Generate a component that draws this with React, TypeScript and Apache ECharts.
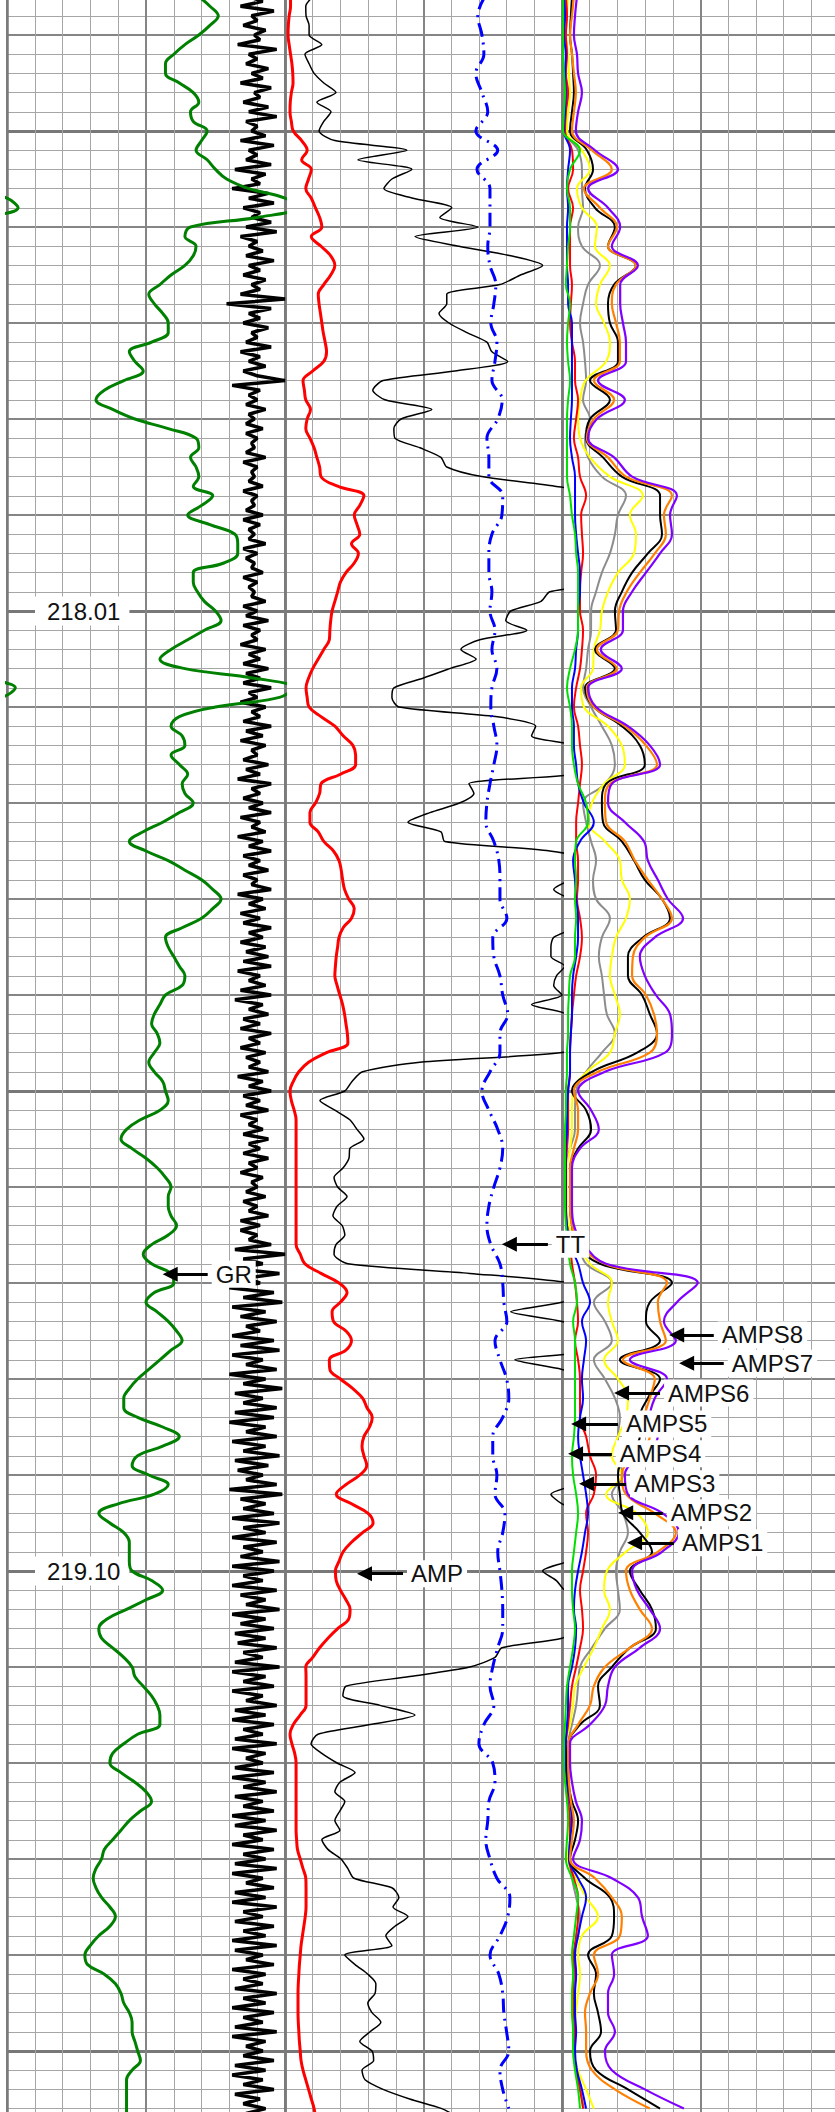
import React, { useEffect, useRef } from 'react';
import * as echarts from 'echarts';

// ---------- depth scale ----------
const DEPTH_MIN = 216.92;
const DEPTH_MAX = 220.19;
const DIV_DEPTH = 0.0218; // depth per minor grid division
const SAMPLE_TOP = 217.3124; // depth of first sample
const STEP_FINE = 0.0109;
const STEP_COARSE = 0.0218;
const STEP_CCL = 0.00545;

// ---------- track 1 ----------
const GR = [69,73,76,73,69,64,60,57,57,62,
67,69,66,67,72,70,68,72,75,79,
87,100,104,90,66,64,68,67,64,59,
55,51,53,56,58,58,52,44,46,49,
42,35,32,38,46,58,68,69,66,68,
69,67,74,70,65,73,82,83,83,78,
67,67,68.5,71,75,77,71,65,59,55,
64,89,103,98,75,62,59,63,64,59,
62,65,63,64,67,62,56,49,44,50,
58,64,70,74,77,74,70,63,57,58,
60,62,64,63,57,55,53,52,54,55,
53,51,53,56,57,58,55,48,43,41,
45,50,54,57,59,58,58,59,61,58,
52,49,52,59,60,53,50,54,58,61,
63,59,55,51,47,44,42,42,47,56,
62,56,47,45,51,58,53,40,33,37,
42,44,44,44,45,52,56,50,43,36,
33,34,38,42,45,46,49,52,54,55,
55,47,42,38,37,41,46,50,52,48,
44,41,38,35,34,32,31,32,34,37,
39,37,33,30,28,29,35,39,41,42,
44,45,45,46,47,48,45,43,43,43,
43,43];

const CCL = [
87,92,84,96,88,90,85,93,89,91,83,97,87,90,86,94,88,92,84,95,
89,91,85,94,87,97,86,90,88,93,84,96,87,90,86,95,82,93,88,91,
81,94,87,96,85,91,88,95,86,97,84,90,87,92,86,96,87,91,85,93,
88,91,84,100,79,95,87,91,85,94,88,90,86,95,84,91,87,93,85,90,
100,81,91,87,90,86,93,87,89,86,92,86,90,88,89,86,93,85,90,88,
89,87,92,85,90,88,89,86,92,85,91,87,89,87,93,85,90,86,89,88,
92,85,90,87,89,88,93,85,90,86,94,85,91,88,90,84,93,87,91,85,
94,86,91,85,95,87,90,84,93,88,91,85,95,86,92,84,93,88,90,85,
94,86,91,83,95,88,91,85,92,87,95,84,91,88,93,83,92,87,95,85,
91,87,94,85,90,88,95,83,92,87,93,84,91,85,95,87,92,84,93,86,
94,85,95,83,91,87,93,84,95,82,92,87,94,85,91,84,95,87,91,84,
93,86,91,87,94,83,92,87,95,85,91,86,94,84,90,87,92,85,94,87,
91,85,94,87,90,84,92,88,90,86,93,85,90,87,94,84,91,84,90,87,
95,82,100,85,92,81,98,86,91,80,96,85,99,81,93,84,97,86,91,81,
96,84,98,81,92,86,97,80,93,85,99,82,92,85,97,82,96,80,93,86,
97,81,93,85,98,82,94,83,92,86,97,80,99,84,93,85,96,81,98,85,
93,81,97,85,92,84,98,81,96,85,92,81,97,84,93,86,98,81,93,84,
96,82,93,83,97,85,92,82,98,81,93,85,96,81,92,86,97,82,93,81,
96,85,92,82,97,81,93,86,92,82,96,81,93,85,97,82,92,85,96,81,
93,82,97,85,92,81,96,85,93,82,97,81,92,86,96,82,93,81,97,85,
92,82,96,85,93,81,97,82,92,86,96,81,93,85,92,82,97,85,93,81,
96,85,92,82,97,81,93,86,92,85,96,82,93,81,92,85,96,82,91,85,
93,86,92];

// ---------- track 2 ----------
const AMP = [2,2,1.5,1.2,1.1,1.5,2,2.5,2.8,2.9,
2.3,1.9,1.8,2.3,3,6,8,6,9.5,8.5,
7.5,9.5,11,12.5,13.3,9.5,13,16.5,18,16.5,
14,12,12.3,12.8,13.3,13.8,14.5,15,14,10,
6.5,7,7.5,9.2,8,7.5,9,10.5,11.5,12.5,
13,19,28.5,27,25,26,27,24,26.5,25,
22,20,19,18,17,16.5,16.2,16,14,12,
10,8.5,7.6,8,8.7,13,18,21,24.5,25.5,
25.5,20,13,12.5,11,9,9,12,14,17.5,
19.5,20.3,20.8,21.5,23,25,24,21,19.5,19,
18.5,18.2,18,18.8,19.8,20.8,21.5,22,22.5,22.7,
15,8.5,5,3,1.8,2.3,3.3,4,4,4,
4,4,4,4,4,4,4,4,4,4,
4,5.5,7.2,13,19.5,22.4,20,17,17.5,22,
24,22,16,16.2,20,24.5,28,29.6,31.5,30.5,
28.5,27.8,28.5,29.5,27,22,18.5,24,30,31.8,
28,24,21,19.5,18.2,18.5,20,22,23.5,23,
19,15.5,12.5,10,7.5,7.6,7.6,7.6,7.6,5.5,
3,1.8,2.5,3.5,4,4,4,4,4,4,
4,4,4.2,4.5,5.5,6.5,7.5,7.6,7.6,7.6,
7.3,6.8,6.3,5.8,5.5,5.2,5,4.8,4.7,4.7,
4.7,4.8,5,5.2,5.5,5.8,6.5,7.5,8.5,9.5,
10.5,11];

const BLACK_TRACE = [10.1,7.5,7.6,8.7,8.7,13.3,7.2,8.7,10.5,14,
18.4,11.5,16.6,14,12.3,18,44,26.3,45.8,38.6,
35.7,46.2,60.2,55.9,69.6,46.9,62.8,81.5,93,85,
77.6,58.4,58.4,55.6,59.2,65.7,72.9,74.7,80.4,61.3,
35.4,31.7,36.1,53,41.9,39.3,39.7,48.7,56.3,58.4,
71,97.4,115,115,115,115,115,115,115,115,
115,115,95.6,92.4,81.5,79.7,87.3,70.3,63.5,69,
59.5,49.8,39.3,38.6,41.1,76,90.5,89,105,110,
110,105,66.4,68.2,63,52.3,44.4,56.3,57.7,95.6,
110,108,103,97,103,110,110,105,97,96,
96,101,98,97,100,89,102,103,105,105,
100,48.7,28,24.2,21.6,12.6,18,23.4,26,28.5,
23.4,23.1,21,17.7,19,22.4,18.8,17.3,20.6,21.6,
18.4,17.7,22.7,66.7,103,108,100,81.5,100,108,
110,110,83,100,110,110,110,110,110,110,
110,110,110,110,110,105,96,100,110,110,
110,110,108,102,93,98,101,110,110,110,
105,100,78.3,75.8,66.7,45,22,20.9,34.3,46.9,
30.7,11.9,9.4,13.3,18.8,25.3,19.8,18,21.6,19.8,
18,19.8,13.3,15.5,20.2,22.7,24.9,38.6,41.1,39,
44.4,39.7,36.4,38.6,21.6,25.3,29.9,32.8,32.5,29.9,
31.4,34.6,30.7,27,31.4,32,27.8,28.9,35.4,45,
56.6,63];

const TT = [72.2,69.6,71.1,71.8,68.9,71.1,73.2,68.9,76.8,69.3,
74,74,74,73.2,74,76.1,75.4,74.3,76.5,75.8,
74.7,78.4,76.8,72.9,73.6,73.6,78.6,78.3,74.7,73.6,
73.6,74.7,74,75.8,74.7,76.5,74.7,74.3,75.4,76.5,
75.4,74,72.9,72.5,75.4,77.2,77.6,77.6,80.1,75,
75.4,77.6,78.6,80.4,77.6,77.6,74,71.1,73.6,76.8,
78.6,77.6,75.4,73.6,72.9,74.3,77.6,78.6,79,80.1,
75.8,77.6,80,80.8,78.6,75,75,76.5,75.8,79.4,
78.6,76.8,77.6,78.3,78.6,78.6,76.8,75,74,75.4,
71.8,70,75,75.8,73.6,73.2,72.5,74,76.5,81.2,
80.4,77.6,74,77.2,78.6,79,80,80.8,77.6,78.6,
80.8];

// ---------- track 3 ----------
const AMPS1 = [2.2,1.8,1.4,2.2,2.5,2.9,2.2,1.8,7.2,10.1,
5.4,7.2,12.6,11.9,17.3,13.7,12.3,15.2,17.3,15.9,
8.5,6.5,5.8,6.5,10.1,17.3,29.2,24.5,26.7,26,
20.2,16.6,14.4,13.7,11.5,11.2,6.9,7.9,16.6,21.6,
22.7,15.2,10.8,9.4,15.5,20.9,21.6,24.5,23.1,19.5,
18,17.3,19.1,20.9,19.1,17.3,9,4,3.6,3.6,
2.9,1.8,1.8,1.8,2.5,5.8,10.1,18,16.6,18,
20.2,15.2,20.2,23.8,23.1,20.2,18,21.6,15.9,27.1,
31,23.1,16.2,15.2,17.3,14.4,11.5,7.9,4.7,4,
2.9,1.4,1.4,1.8,2.2,2.9,2.5,2.2,5,8.7,
13,7.2,5.8,6.5,5.8,5,4.7,4.3,5.8,8.7,
11.5];

const AMPS2 = [3.6,3.2,2.9,3.6,4,4.3,3.6,2.9,9,11.2,
8.3,11.9,19.1,16.6,26.7,18.8,16.6,17.3,20.2,20.2,
10.1,17.3,10.1,8.7,14.8,21.6,35.4,35.4,36.1,31,
25.3,21.6,19.1,19.5,11.9,19.1,8.3,11.5,21.6,28.1,
29.9,15.9,14.4,14.8,21.6,26,29.9,36.1,39,29.2,
23.8,23.8,28.9,31.7,34.3,27.1,10.8,3.6,8.7,10.5,
5.8,2.9,2.9,2.9,3.6,5.4,13.7,39.7,31.7,30.3,
35.4,20.9,35.4,31,28.1,28.1,22.7,20.2,20.9,22,
28.1,32.5,24.5,28.1,32.5,33.9,24.5,18,13,13.7,
6.5,2.2,1.8,2.2,3.6,5.8,4.7,2.9,8.3,17.3,
18.8,18,9.4,12.3,11.5,13,14.1,10.1,12.3,23.8,
35.4];

const AMPS3 = [0.7,1.1,0.7,1.4,1.1,1.4,1.1,0.7,2.9,2.2,
1.8,2.2,1.8,1.8,1.8,2.2,2.2,3.6,3.6,3.6,
3.6,3.6,3.2,2.9,3.6,4.7,4.7,4.7,5.1,5.8,
6.5,6.5,5.8,5.8,5.1,4.7,3.6,3.6,4.3,4.3,
5.1,5.8,7.9,11.5,6.5,4,4.7,5.1,5.8,5.8,
5.1,4,3.6,3.6,3.2,2.9,2.9,2.2,1.8,1.8,
1.4,1.4,1.4,1.4,1.8,2.9,5.8,7.6,10.1,7.2,
8.7,7.9,7.2,7.6,6.5,5.8,6.5,7.6,8.7,9.4,
8.3,7.2,5.8,4.7,4.3,5.1,4.7,3.6,2.2,2.2,
1.8,1.4,1.4,1.8,2.9,3.6,2.9,2.5,5.8,8.7,
7.2,5.8,4.7,5.1,4.7,4.7,5.1,4.7,5.4,7.2,
8.7];

const AMPS4 = [0.4,0.4,0.4,0.4,0.7,1.1,0.7,0.4,6.5,2.9,
1.8,2.9,2.9,2.2,1.8,1.4,2.9,2.2,1.8,2.2,
2.9,2.2,1.8,1.8,1.8,1.8,2.9,3.6,4.7,5.1,
5.8,5.8,5.8,5.8,4.7,2.9,1.8,2.9,3.6,3.6,
4.3,5.8,8.7,9.4,5.1,4.7,5.1,4.7,5.1,4.7,
4.7,2.9,2.5,2.2,2.2,1.8,1.8,1.4,1.4,1.1,
1.1,1.1,1.1,1.1,1.4,2.2,2.9,4.7,5.4,4,
4.7,4.7,4.7,4.7,4.7,4.3,3.6,4,5.1,5.8,
5.1,4.3,3.6,3.6,4,4.7,4,2.9,1.8,1.4,
1.1,0.7,0.7,1.1,1.8,2.2,1.8,1.4,3.6,5.8,
5.1,4.3,3.6,4,3.6,3.6,4,4,4.7,5.8,
6.5];

const AMPS5 = [1.4,1.8,1.4,1.8,1.4,2.2,1.4,1.1,3.6,4,
2.2,4,2.9,2.9,2.9,3.6,3.2,2.9,3.6,4.7,
4.7,5.8,5.1,4.3,5.8,6.5,8.7,6.9,7.2,7.6,
6.9,6.5,6.5,7.6,7.2,6.5,5.1,4.3,5.8,6.5,
7.2,6.5,5.8,5.1,5.1,5.8,5.8,5.4,6.5,7.2,
6.5,5.1,4.3,3.6,3.2,2.9,2.9,2.2,2.2,2.2,
1.8,1.4,1.4,1.4,1.8,2.9,3.6,4.7,5.4,5.8,
4.7,5.8,6.5,6.5,6.5,8.7,10.1,12.3,11.5,8.7,
9.4,8.7,7.6,6.5,7.2,7.6,6.5,5.1,3.6,2.9,
2.2,1.4,1.4,1.8,2.2,2.9,2.9,2.5,4.3,5.8,
5.8,5.1,4.3,4.3,4,4.3,4.7,4.3,5.1,6.5,
7.6];

const AMPS6 = [1.1,1.1,1.1,1.4,1.4,1.8,1.4,1.1,5.8,7.2,
7.2,7.6,5.8,7.2,13.7,9.4,7.6,6.5,7.6,8.3,
8.7,7.6,10.1,8.3,9.4,14.4,23.1,20.2,19.1,17.3,
14.4,12.3,10.5,10.5,9.4,8.7,7.6,10.5,14.4,18,
19.1,15.5,7.6,8.7,10.5,12.3,11.2,12.3,17.3,14.4,
13.3,14.4,15.2,16.2,19.1,14.4,8.7,5.1,4.7,4.7,
2.9,1.4,1.4,1.4,2.2,5.8,8.7,18,11.5,15.5,
18,11.5,15.5,19.1,20.9,20.2,20.2,22,18,22,
23.8,20.9,19.5,20.2,20.9,15.5,10.8,6.5,5.8,5.1,
3.6,2.2,2.2,2.5,2.9,3.6,3.2,2.9,3.6,5.1,
6.5,5.8,4.3,5.1,4.3,4.3,4,4.3,5.1,6.5,
7.9];

const AMPS7 = [4.3,3.6,2.9,3.6,4.3,5,4.3,3.6,10.8,18,
7.9,13.7,19.8,16.6,26.7,19.5,18,19.5,20.9,20.9,
11.5,18.8,11.5,9,16.6,23.1,39.7,36.8,37.5,33.5,
28.1,23.4,20.6,20.2,12.6,19.8,9,11.5,22.7,30.3,
34.3,17.3,15.5,15.9,22.7,26.3,31,36.1,39.7,29.9,
25.6,25.3,30.3,33.2,34.3,31.7,13,4.3,5.8,5.8,
4.3,2.9,2.9,2.9,3.6,6.5,15.5,37.9,34.6,35.4,
37.5,22,33.5,31.7,29.9,31.7,25.6,21.6,23.1,33.5,
41.1,34.6,23.1,24.5,28.1,32.5,24.5,15.5,11.5,10.1,
5.8,2.2,2.2,2.5,3.2,4.3,3.6,2.9,11.9,18,
21.6,20.9,11.5,13,10.1,8.3,8.7,8.7,10.8,19.1,
31.7];

const AMPS8 = [5.4,4.7,4.3,5.4,5.8,7.2,5.8,5,11.9,20.2,
9.4,16.6,21,18,27.4,21,21,22,23.1,23.1,
13,22.7,12.6,9.4,18.8,25.3,41.5,39,39.7,35.4,
30.3,25.3,22,22,14,21.6,9.4,12.3,23.8,31.7,
35.4,18,16.6,22.7,29.6,31,34.6,38.2,43.7,33.5,
28.1,29.9,33.9,39,39.7,37.2,15.5,5.8,10.5,13.3,
6.5,3.6,3.6,3.6,4.3,7.9,15.9,49,41.5,36.8,
41.1,24.5,37.9,33.5,31.7,34.6,28.1,22.7,23.8,36.4,
42.2,36.1,25.3,27.1,31.7,35.4,28.1,19.1,16.6,15.5,
10.1,2.9,2.9,3.6,5,7.2,6.5,4,18,27.4,
28.9,31,18,18.8,16.6,16.6,19.1,15.5,18,29.9,
44];

// ---------- annotations (curve name arrows) ----------
const ANNOTATIONS = [
  { label: 'GR', track: 0, depth: 218.763, tip: 56.3, tail: 72.2 },
  { label: 'CCL$1', track: 0, depth: 218.797, tip: 89, tail: 105.7 },
  { label: 'TT', track: 1, depth: 218.729, tip: 78.6, tail: 94.9 },
  { label: 'AMP', track: 1, depth: 219.103, tip: 26.3, tail: 42.6 },
  { label: 'AMPS8', track: 2, depth: 218.832, tip: 39, tail: 54.8 },
  { label: 'AMPS7', track: 2, depth: 218.864, tip: 42.6, tail: 58.4 },
  { label: 'AMPS6', track: 2, depth: 218.898, tip: 19.1, tail: 35.4 },
  { label: 'AMPS5', track: 2, depth: 218.933, tip: 3.6, tail: 20.2 },
  { label: 'AMPS4', track: 2, depth: 218.967, tip: 2.5, tail: 18 },
  { label: 'AMPS3', track: 2, depth: 219.001, tip: 6.5, tail: 23.1 },
  { label: 'AMPS2', track: 2, depth: 219.034, tip: 20.6, tail: 36.4 },
  { label: 'AMPS1', track: 2, depth: 219.068, tip: 23.8, tail: 40.4 },
];

// ---------- layout / style ----------
const TRACKS = [
  { left: 7, width: 278 },
  { left: 285, width: 277 },
  { left: 562, width: 277 },
];
const PAGE_W = 835;
const PAGE_H = 2112;
const CHART_SHIFT = -349; // chart canvas starts above the visible window
const CHART_H = 2880;
const FONT = 'Liberation Sans, Arial, Helvetica, sans-serif';
const MINOR = { color: '#a6a6a6', width: 1 };
const MEDIUM = { color: '#858585', width: 2 };
const MAJOR = { color: '#787878', width: 3 };
const BORDER = { color: '#7a7a7a', width: 2.5 };
const ARROW_INSET = 2.4;

type CurveDef = {
  name: string; track: number; values: number[]; step: number; color: string;
  width: number; smooth: number | boolean; dash?: number[]; offset?: number;
};

const CURVES: CurveDef[] = [
  { name: 'CCL$1', track: 0, values: CCL, step: STEP_CCL, color: '#000000', width: 3.5, smooth: false },
  { name: 'GR', track: 0, values: GR, step: STEP_FINE, color: '#008000', width: 3, smooth: 0.4 },
  { name: 'GR backup', track: 0, values: GR, step: STEP_FINE, color: '#008000', width: 3, smooth: 0.4, offset: -100 },
  { name: 'AMP', track: 1, values: AMP, step: STEP_FINE, color: '#ff0000', width: 3, smooth: 0.4 },
  { name: 'AMP trace', track: 1, values: BLACK_TRACE, step: STEP_FINE, color: '#000000', width: 1.5, smooth: 0.25 },
  { name: 'TT', track: 1, values: TT, step: STEP_COARSE, color: '#0000ff', width: 3, smooth: 0.4, dash: [14, 6, 2, 6] },
  { name: 'AMPS6', track: 2, values: AMPS6, step: STEP_COARSE, color: '#8c8c8c', width: 2, smooth: 0.4 },
  { name: 'AMPS1', track: 2, values: AMPS1, step: STEP_COARSE, color: '#ffff00', width: 2, smooth: 0.4 },
  { name: 'AMPS5', track: 2, values: AMPS5, step: STEP_COARSE, color: '#ff0000', width: 2, smooth: 0.4 },
  { name: 'AMPS3', track: 2, values: AMPS3, step: STEP_COARSE, color: '#0000ff', width: 2, smooth: 0.4 },
  { name: 'AMPS4', track: 2, values: AMPS4, step: STEP_COARSE, color: '#00e000', width: 2, smooth: 0.4 },
  { name: 'AMPS2', track: 2, values: AMPS2, step: STEP_COARSE, color: '#000000', width: 2, smooth: 0.4 },
  { name: 'AMPS7', track: 2, values: AMPS7, step: STEP_COARSE, color: '#ff8000', width: 2.2, smooth: 0.4 },
  { name: 'AMPS8', track: 2, values: AMPS8, step: STEP_COARSE, color: '#8000ff', width: 2.2, smooth: 0.4 },
];

function buildOption() {
  const hidden = { axisLine: { show: false }, axisTick: { show: false }, axisLabel: { show: false } };
  const xAxis: any[] = [];
  const yAxis: any[] = [];
  const xIdx: number[] = [];
  const yIdx: number[] = [];
  TRACKS.forEach((_, g) => {
    xIdx[g] = xAxis.length;
    [[10, MINOR], [50, MEDIUM], [100, BORDER]].forEach(([iv, st]: any) => {
      xAxis.push({ type: 'value', gridIndex: g, position: 'top', min: 0, max: 100, interval: iv, ...hidden,
        splitLine: { show: true, lineStyle: st } });
    });
    yIdx[g] = yAxis.length;
    yAxis.push({ type: 'value', gridIndex: g, position: 'left', min: DEPTH_MIN, max: DEPTH_MAX, inverse: true, show: false });
    [[1, MINOR], [5, MEDIUM], [25, MAJOR]].forEach(([iv, st]: any) => {
      yAxis.push({ type: 'value', gridIndex: g, position: 'left', min: 0, max: 150, interval: iv, inverse: true, ...hidden,
        splitLine: { show: true, lineStyle: st } });
    });
  });
  // depth labels
  yAxis.push({
    type: 'value', gridIndex: 0, position: 'left', min: 0, max: 150, interval: 50, inverse: true,
    axisLine: { show: false }, axisTick: { show: false }, splitLine: { show: false },
    axisLabel: {
      show: true, inside: true, margin: 28, fontSize: 24, color: '#111', fontFamily: FONT,
      backgroundColor: '#ffffff', padding: [3, 9, 2, 12],
      showMinLabel: false, showMaxLabel: false,
      formatter: (v: number) => (DEPTH_MIN + v * DIV_DEPTH).toFixed(2),
    },
  });

  const series: any[] = CURVES.map((c) => ({
    type: 'line', name: c.name, xAxisIndex: xIdx[c.track], yAxisIndex: yIdx[c.track],
    showSymbol: false, symbol: 'none', smooth: c.smooth, clip: true, silent: true, z: 2,
    lineStyle: { color: c.color, width: c.width, type: c.dash ? c.dash : 'solid' },
    data: c.values.map((u, i) => [u + (c.offset || 0), +(SAMPLE_TOP + i * c.step).toFixed(5)]),
  }));

  TRACKS.forEach((_, g) => {
    series.push({
      type: 'line', name: 'labels' + g, xAxisIndex: xIdx[g], yAxisIndex: yIdx[g], data: [],
      clip: false, silent: true, z: 10,
      markLine: {
        silent: true, animation: false, symbol: ['triangle', 'none'], symbolSize: 15,
        lineStyle: { color: '#000', width: 3, type: 'solid' },
        emphasis: { disabled: true },
        label: {
          show: true, position: 'end', formatter: '{b}', color: '#111', fontSize: 24, fontFamily: FONT,
          backgroundColor: '#ffffff', padding: [2, 4, 1, 4], distance: 4,
        },
        data: ANNOTATIONS.filter((a) => a.track === g).map((a) => [
          { name: a.label, coord: [a.tip + ARROW_INSET, a.depth] },
          { coord: [a.tail, a.depth] },
        ]),
      },
    });
  });

  return {
    animation: false,
    backgroundColor: '#ffffff',
    grid: TRACKS.map((t) => ({ left: t.left, width: t.width, top: 0, height: CHART_H, containLabel: false })),
    xAxis, yAxis, series,
  };
}

export default function App() {
  const ref = useRef<HTMLDivElement>(null);
  useEffect(() => {
    const chart = echarts.init(ref.current as HTMLDivElement, undefined, { renderer: 'svg' });
    chart.setOption(buildOption() as any);
    return () => chart.dispose();
  }, []);
  return (
    <div style={{ position: 'absolute', left: 0, top: 0, width: PAGE_W, height: PAGE_H, overflow: 'hidden', background: '#fff' }}>
      <div ref={ref}
        style={{ position: 'absolute', left: 0, top: CHART_SHIFT, width: 840, height: CHART_H }} />
    </div>
  );
}
